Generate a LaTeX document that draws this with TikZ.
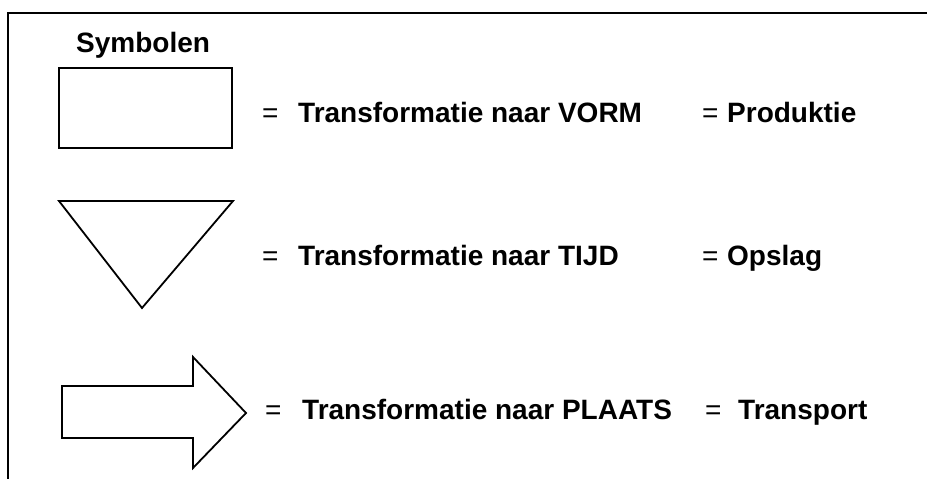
\documentclass[tikz,border=0pt]{standalone}
\usepackage{fontspec}
\setmainfont{Liberation Sans}
\begin{document}
\begin{tikzpicture}[x=1pt,y=-1pt,
  shape line/.style={line width=1.8pt,line join=miter},
  lbl/.style={anchor=base west,inner sep=0pt,font=\fontsize{28}{30}\selectfont\bfseries},
  eq/.style={anchor=base west,inner sep=0pt,font=\fontsize{28}{30}\selectfont}]
\useasboundingbox (0,0) rectangle (927,479);
% frame (left and top edges)
\draw[line width=1.8pt] (8,479) -- (8,13) -- (927,13);
% title
\node[lbl] (title) at (76,52) {Symbolen};
% symbol: production (rectangle)
\draw[shape line] (59,68) rectangle (232,148);
% symbol: storage (inverted triangle)
\draw[shape line] (59,201) -- (233,201) -- (142,308) -- cycle;
% symbol: transport (block arrow)
\draw[shape line] (62,386) -- (193,386) -- (193,357) -- (246,413)
  -- (193,468) -- (193,438) -- (62,438) -- cycle;
% row 1
\node[eq]  (eqA) at (262,122) {=};
\node[lbl] (vorm) at (298,122) {Transformatie naar VORM};
\node[eq]  (eqB) at (702,122) {=};
\node[lbl] (prod) at (727,122) {Produktie};
% row 2
\node[eq]  (eqC) at (262,265) {=};
\node[lbl] (tijd) at (298,265) {Transformatie naar TIJD};
\node[eq]  (eqD) at (702,265) {=};
\node[lbl] (opslag) at (727,265) {Opslag};
% row 3
\node[eq]  (eqE) at (265,419) {=};
\node[lbl] (plaats) at (302,419) {Transformatie naar PLAATS};
\node[eq]  (eqF) at (705,419) {=};
\node[lbl] (transp) at (738,419) {Transport};
\end{tikzpicture}
\end{document}
